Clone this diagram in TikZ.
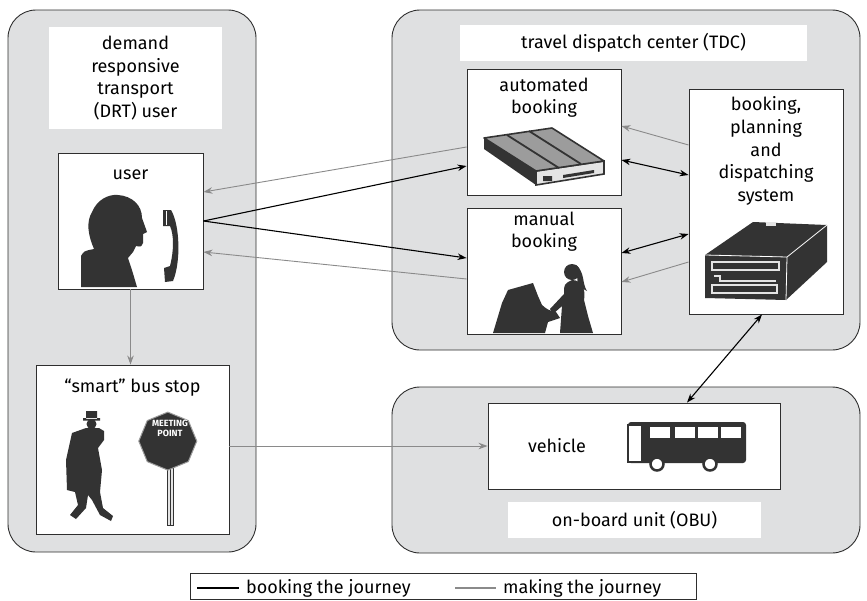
\documentclass[tikz,border=0pt]{standalone}
\usepackage{fontspec}
\setmainfont{Fira Sans}
\usetikzlibrary{arrows.meta,positioning}
\definecolor{panelgray}{HTML}{DFE0E1}
\definecolor{linedark}{HTML}{2E2E2E}
\definecolor{arrowgray}{HTML}{8A8A8A}
\definecolor{icondark}{HTML}{333333}
\definecolor{iconmid}{HTML}{9C9C9C}
\definecolor{iconlight}{HTML}{E4E4E4}
\begin{document}
\begin{tikzpicture}[x=1pt,y=-1pt,
    panel/.style={draw=linedark,fill=panelgray,line width=0.9pt,rounded corners=28pt},
    box/.style={draw=linedark,fill=white,line width=0.9pt,inner sep=0pt},
    titlebox/.style={fill=white,inner sep=0pt,align=center,font=\fontsize{18}{22.7}\selectfont},
    caption/.style={inner sep=0pt,align=center,font=\fontsize{18}{22.7}\selectfont,
        execute at begin node=\strut},
    book/.style={-{Stealth[length=9pt,width=6.5pt]},line width=1.1pt,draw=black},
    booktwo/.style={{Stealth[length=9pt,width=6.5pt]}-{Stealth[length=9pt,width=6.5pt]},
        line width=1.1pt,draw=black},
    trip/.style={-{Stealth[length=9pt,width=6.5pt]},line width=0.9pt,draw=arrowgray},
    icon/.style={fill=icondark,draw=none}]
    \useasboundingbox (0,0) rectangle (867,600);
    % the three areas
    \draw[panel] (8,10) rectangle (256,552);
    \draw[panel] (392,10) rectangle (860,350);
    \draw[panel] (392,387) rectangle (860,553);
    \node[titlebox,minimum width=173pt,minimum height=102pt] (drttitle) at (135.5,78)
        {demand\\responsive\\transport\\(DRT) user};
    \node[titlebox,minimum width=347pt,minimum height=36pt] (tdctitle) at (633.5,43)
        {travel dispatch center (TDC)};
    \node[titlebox,minimum width=253pt,minimum height=36pt] (obutitle) at (634.5,520)
        {on-board unit (OBU)};
    % boxes
    \node[box,minimum width=145pt,minimum height=136pt] (user) at (130.5,221) {};
    \node[box,minimum width=154pt,minimum height=126pt] (autobook) at (544,132) {};
    \node[box,minimum width=154pt,minimum height=126pt] (manbook) at (544,271) {};
    \node[box,minimum width=154pt,minimum height=225pt] (bpds) at (766,201.5) {};
    \node[box,minimum width=193pt,minimum height=169pt] (busstop) at (132.5,449.5) {};
    \node[box,minimum width=292pt,minimum height=86pt] (vehicle) at (634,446) {};
    \node[caption,below=11pt of user.north] {user};
    \node[caption,below=9pt of autobook.north] {automated\\booking};
    \node[caption,below=4pt of manbook.north] {manual\\booking};
    \node[caption,below=8pt of bpds.north] {booking,\\planning\\and\\dispatching\\system};
    \node[caption,below=12pt of busstop.north] {“smart” bus stop};
    \node[caption,anchor=base] at (557,452) {vehicle};
    % user on the phone
    \fill[icon] (81,287) -- (81,256) .. controls (84,251) .. (94,249)
        .. controls (88,235) and (86,222) .. (92,212) .. controls (97,200) and (108,194) .. (118,195)
        .. controls (132,196) and (142,205) .. (142,218) -- (147,232) -- (143,234) -- (143,243)
        .. controls (141,247) .. (136,246) -- (133,252) -- (128,258)
        .. controls (132,270) .. (137,287) -- cycle;
    \fill[icon] (163,210) -- (171,210) .. controls (180,225) and (181,262) .. (173,281)
        -- (165,282) -- (164,268) -- (170,266) .. controls (174,250) and (174,235) .. (170,226)
        -- (163,226) -- cycle;
    \draw[white,line width=1pt] (166,211) -- (166,225);
    % disk drive
    \fill[icondark] (484,138) -- (536,171) -- (536,185) -- (484,149) -- cycle;
    \draw[icondark,line width=1.6pt,fill=iconlight] (536,171) -- (604,161) -- (604,174) -- (536,185) -- cycle;
    \draw[icondark,line width=1.6pt,fill=iconmid,line join=round] (484,138) -- (552,128) -- (604,161) -- (536,171) -- cycle;
    \draw[icondark,line width=1.8pt] (507,135) -- (559,168) (529,131) -- (581,164);
    \fill[icondark] (543,176) rectangle (552,181) (563,175) -- (594,170) -- (594,173) -- (563,178) -- cycle;
    % operator at the terminal
    \fill[icon] (493,333) -- (502,303) -- (508,290) -- (533,283) -- (538,296) -- (542,305)
        .. controls (548,310) .. (556,312) -- (560,318) -- (548,322) -- (545,333) -- cycle;
    \fill[icon] (572,272) circle (8);
    \fill[icon] (560,333) -- (562,306) -- (553,314) -- (550,309) -- (564,294)
        .. controls (564,284) .. (572,280) .. controls (582,280) and (586,290) .. (584,300)
        -- (588,316) -- (593,333) -- cycle;
    \fill[icon] (576,265) .. controls (585,272) and (582,284) .. (587,291) -- (578,286) -- cycle;
    % dispatching server
    \fill[icon] (705,255) -- (753,222) -- (827,225) -- (787,257) -- cycle;
    \fill[icon] (705,255) -- (787,257) -- (786,300) -- (705,298) -- cycle;
    \fill[icon] (787,257) -- (827,225) -- (827,262) -- (786,300) -- cycle;
    \draw[white,line width=0.8pt] (705,255) -- (787,257) -- (827,225) (787,257) -- (786,300);
    \fill[iconlight] (766,222) rectangle (776,226);
    \draw[iconlight,line width=1.2pt] (712,262) rectangle (779,270) (712,285) rectangle (777,293);
    \draw[iconlight,line width=1.2pt] (714,276) -- (720,276) -- (720,281) -- (776,281);
    % walking man
    \fill[icon] (83,418) rectangle (100,420.5) (86,419) rectangle (97,411);
    \fill[icon] (91.5,424) circle (5);
    \fill[icon] (86,428) -- (72,433) -- (66,460) -- (67,490) -- (75,492) -- (78,505) -- (70,515)
        -- (76,519) -- (86,508) -- (88,495) -- (92,500) -- (100,515) -- (111,521) -- (113,516)
        -- (103,508) -- (100,492) -- (102,470) -- (98,448) -- (104,440) -- (104,431) -- (99,428) -- cycle;
    % meeting point sign
    \draw[icondark,fill=iconlight,line width=0.8pt] (167,458) rectangle (173,525);
    \draw[icondark,line width=0.8pt] (170,458) -- (170,525);
    \draw[iconmid,fill=icondark,line width=1pt]
        (170,430) ++(22.5:29) -- ++(112.5:22.2) -- ++(157.5:22.2) -- ++(202.5:22.2)
        -- ++(247.5:22.2) -- ++(292.5:22.2) -- ++(337.5:22.2) -- ++(22.5:22.2) -- cycle;
    \node[inner sep=0pt,align=center,text=white,font=\fontsize{9}{10}\selectfont\bfseries]
        (signtext) at (170,428) {MEETING\\POINT};
    % bus
    \fill[icon,rounded corners=3pt] (628,422) rectangle (746,463);
    \draw[icondark,fill=white,line width=1.2pt] (628,425) rectangle (642,462);
    \foreach \wx in {650,675,698,721}
        \fill[white] (\wx,427) rectangle (\wx+20,438);
    \foreach \wx in {657,710}
        \draw[icondark,fill=white,line width=2.5pt] (\wx,464) circle (6.5);
    % connectors
    \draw[trip] ([yshift=-15pt]autobook.west) -- ([yshift=29pt]user.east);
    \draw[book] (user.east) -- ([yshift=-34pt]autobook.west);
    \draw[book] (user.east) -- ([yshift=13pt]manbook.west);
    \draw[trip] ([yshift=-8pt]manbook.west) -- ([yshift=-31pt]user.east);
    \draw[trip] ([yshift=56.5pt]bpds.west) -- ([yshift=6pt]autobook.east);
    \draw[booktwo] ([yshift=-28pt]autobook.east) -- ([yshift=26.5pt]bpds.west);
    \draw[booktwo] ([yshift=18pt]manbook.east) -- ([yshift=-32.5pt]bpds.west);
    \draw[trip] ([yshift=-60.5pt]bpds.west) -- ([yshift=-11pt]manbook.east);
    \draw[booktwo] ([xshift=-4pt]bpds.south) -- ([xshift=53pt]vehicle.north);
    \draw[trip] (user.south) -- (user.south |- busstop.north);
    \draw[trip] (busstop.east |- vehicle.west) -- (vehicle.west);
    % key
    \node[draw=linedark,line width=0.9pt,minimum width=506pt,minimum height=26pt,inner sep=0pt]
        (legend) at (443,586) {};
    \node[caption,anchor=base west] (bookkey) at (246,593) {booking the journey};
    \node[caption,anchor=base west] (tripkey) at (503,593) {making the journey};
    \draw[black,line width=1.1pt] (197,588) -- (239,588);
    \draw[arrowgray,line width=1.1pt] (455,588) -- (496,588);
\end{tikzpicture}
\end{document}
